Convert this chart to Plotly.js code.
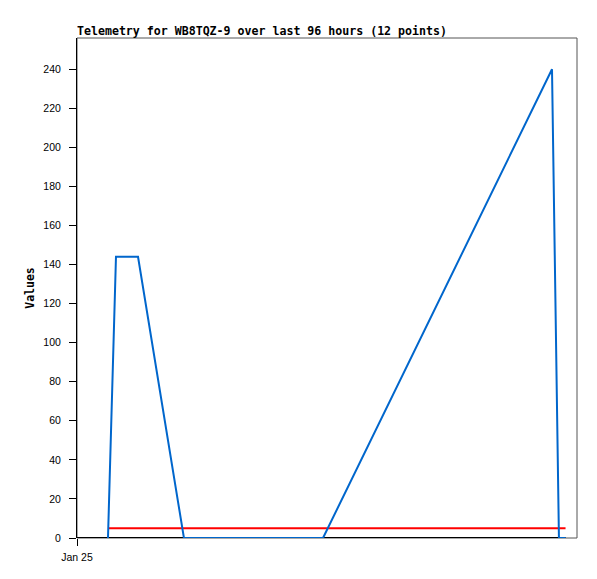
<!DOCTYPE html>
<html>
<head>
<meta charset="utf-8">
<script src="https://cdn.plot.ly/plotly-3.0.1.min.js"></script>
<style>html,body{margin:0;padding:0;background:#fff;}#chart{width:597px;height:579px;}</style>
</head>
<body>
<div id="chart"></div>
<script>
// Telemetry samples (12 points)
const times = [
  "2024-01-25 05:57", "2024-01-25 07:29", "2024-01-25 11:43", "2024-01-25 20:32",
  "2024-01-26 03:00", "2024-01-26 09:00", "2024-01-26 15:00", "2024-01-26 19:00",
  "2024-01-26 23:14", "2024-01-28 19:12", "2024-01-28 20:32", "2024-01-28 21:48"
];
const values = [0, 144, 144, 0, 0, 0, 0, 0, 0, 240, 0, 0];
const thresholdTimes = ["2024-01-25 05:57", "2024-01-28 21:48"];
const thresholdValues = [5, 5];
const baseTimes = ["2024-01-25 00:00", "2024-01-28 21:48"];
const baseValues = [0, 0];
const xRange = ["2024-01-25 00:00", "2024-01-29 00:00"];
const xTickVals = ["2024-01-25 00:00"];
const xTickText = ["Jan 25"];
const yTickVals = [0, 20, 40, 60, 80, 100, 120, 140, 160, 180, 200, 220, 240];
const titleText = "Telemetry for WB8TQZ-9 over last 96 hours (12 points)";
const yTitle = "Values";

const traces = [
  {x: baseTimes, y: baseValues, type: "scatter", mode: "lines",
   line: {color: "#000000", width: 2}, hoverinfo: "skip", showlegend: false, cliponaxis: false},
  {x: thresholdTimes, y: thresholdValues, type: "scatter", mode: "lines",
   line: {color: "#ff0000", width: 2}, showlegend: false},
  {x: times, y: values, type: "scatter", mode: "lines",
   line: {color: "#0066cc", width: 2}, showlegend: false}
];

const layout = {
  width: 597, height: 579,
  margin: {l: 77, r: 20, t: 38, b: 41, pad: 0},
  paper_bgcolor: "#ffffff", plot_bgcolor: "#ffffff",
  showlegend: false,
  title: {
    text: titleText,
    font: {family: "DejaVu Sans Mono", size: 11.6, color: "#000000", weight: "bold"},
    x: 0, xref: "paper", xanchor: "left",
    y: 1 - 31/579, yref: "container", yanchor: "middle"
  },
  xaxis: {
    type: "date", range: xRange,
    tickmode: "array", tickvals: xTickVals, ticktext: xTickText,
    ticks: "outside", ticklen: 7, tickcolor: "#000000", tickwidth: 1,
    ticklabelstandoff: 2,
    tickfont: {family: "Liberation Sans", size: 10.5, color: "#000000"},
    showgrid: false, zeroline: false, showline: false, fixedrange: true
  },
  yaxis: {
    range: [0, 256],
    tickmode: "array", tickvals: yTickVals,
    ticks: "outside", ticklen: 7, tickcolor: "#000000", tickwidth: 1,
    ticklabelstandoff: 6,
    tickfont: {family: "Liberation Sans", size: 10.5, color: "#000000"},
    showgrid: false, zeroline: false, showline: true, linecolor: "#000000", linewidth: 1,
    title: {text: yTitle, font: {family: "DejaVu Sans Mono", size: 11.5, color: "#000000", weight: "bold"}, standoff: 6},
    fixedrange: true
  },
  shapes: [
    {type: "rect", xref: "paper", yref: "paper", x0: 0, x1: 1, y0: 0, y1: 1,
     line: {color: "#555555", width: 1}, fillcolor: "rgba(0,0,0,0)", layer: "below"}
  ]
};

Plotly.newPlot("chart", traces, layout, {displayModeBar: false, staticPlot: true});
</script>
</body>
</html>
